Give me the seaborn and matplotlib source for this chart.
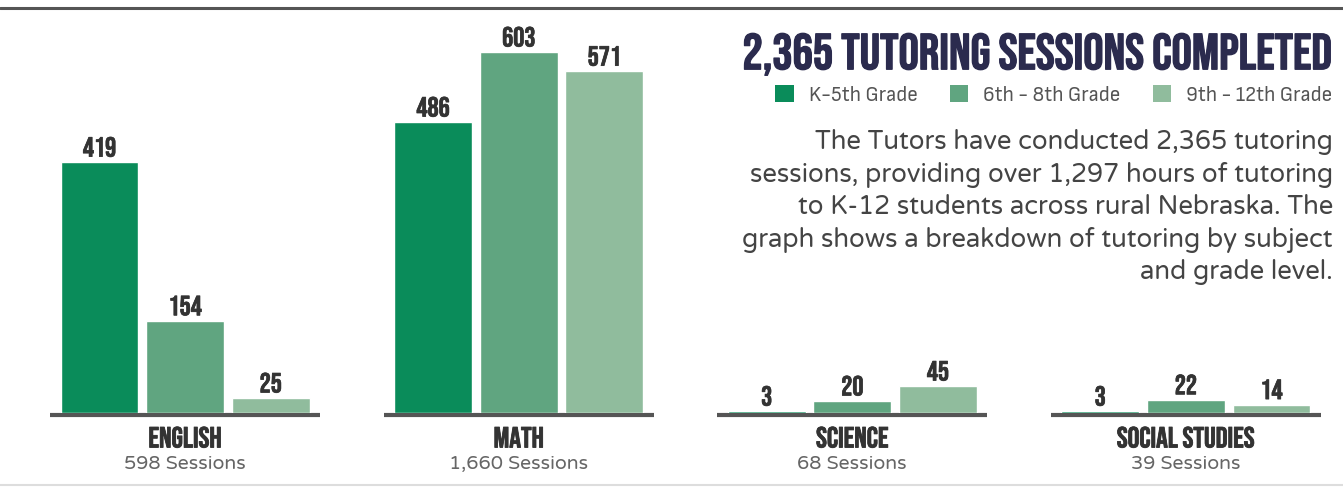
#!/usr/bin/env python3
# coding: utf-8
import pandas as pd
import seaborn as sns
import matplotlib.pyplot as plt
import matplotlib.patheffects as pe
import matplotlib.transforms as mtrans
from matplotlib.patches import Patch
from matplotlib.lines import Line2D

# ------------------------------------------------
# Data
# ------------------------------------------------
subjects = ["ENGLISH", "MATH", "SCIENCE", "SOCIAL STUDIES"]
session_labels = ["598 Sessions", "1,660 Sessions", "68 Sessions", "39 Sessions"]
grades = ["K-5th Grade", "6th - 8th Grade", "9th - 12th Grade"]
k5 = [419, 486, 3, 3]
g6_8 = [154, 603, 20, 22]
g9_12 = [25, 571, 45, 14]
colors = ["#0a8c5a", "#60a580", "#90bc9d"]

title = "2,365 TUTORING SESSIONS COMPLETED"
blurb = ("The Tutors have conducted 2,365 tutoring\n"
         "sessions, providing over 1,297 hours of tutoring\n"
         "to K-12 students across rural Nebraska. The\n"
         "graph shows a breakdown of tutoring by subject\n"
         "and grade level.")

rows = []
for grade, vals in zip(grades, [k5, g6_8, g9_12]):
    for s, v in zip(subjects, vals):
        rows.append({"Subject": s, "Grade": grade, "Sessions": v})
data = pd.DataFrame(rows)

# ------------------------------------------------
# Plot
# ------------------------------------------------
sns.set_theme(style="white")
head = ["Bebas Neue", "DejaVu Sans"]
cond = ["Sofia Sans Semi Condensed", "DejaVu Sans"]
body = ["Varela Round", "DejaVu Sans"]


def bold(color, w=1.0):
    return [pe.withStroke(linewidth=w, foreground=color)]


fig = plt.figure(figsize=(13.43, 4.87), dpi=100)
ax = fig.add_axes([0, 74 / 487, 1, 413 / 487])

sns.barplot(data=data, x="Subject", y="Sessions", hue="Grade",
            hue_order=grades, order=subjects, palette=colors,
            width=0.77, gap=0.09, saturation=1, ax=ax, legend=False)

ax.set_xlim(-0.555, 3.471)
ax.set_ylim(0, 690)
ax.axis("off")

for cont in ax.containers:
    ax.bar_label(cont, padding=4, fontsize=20, fontfamily=head,
                 color="#333333", path_effects=bold("#333333", 0.5))

# baseline (just under the bars) and the category captions
down = ax.transData + mtrans.ScaledTranslation(0, -2 / 100, fig.dpi_scale_trans)
for i, (s, lab) in enumerate(zip(subjects, session_labels)):
    ax.plot([i - 0.405, i + 0.405], [0, 0], color="#555555", lw=3,
            solid_capstyle="butt", clip_on=False, transform=down, zorder=0)
    ax.text(i, -40, s, ha="center", va="center", fontsize=21,
            fontfamily=head, color="#333333", path_effects=bold("#333333", 0.6))
    ax.text(i, -86, lab, ha="center", va="center", fontsize=14,
            fontfamily=body, color="#666666")

# top and bottom rules
fig.add_artist(Line2D([0, 1], [1 - 8 / 487] * 2, color="#555555", lw=2.2))
fig.add_artist(Line2D([0, 1], [2 / 487] * 2, color="#dddddd", lw=1.5))

# title, legend and description
fig.text(1333 / 1343, 1 - 54 / 487, title, ha="right", va="center",
         fontsize=36.5, fontfamily=head, color="#2b2b4e",
         path_effects=bold("#2b2b4e", 0.9))

handles = [Patch(facecolor=c, edgecolor="none", label=g)
           for c, g in zip(colors, grades)]
fig.legend(handles=handles, ncol=3, frameon=False, loc="center right",
           bbox_to_anchor=(1352 / 1343, 1 - 95 / 487),
           prop={"family": cond, "size": 15.5}, labelcolor="#555555",
           handlelength=0.85, handleheight=0.85, handletextpad=0.7,
           columnspacing=1.5)

fig.text(1333 / 1343, 1 - 129 / 487, blurb, ha="right", va="top",
         fontsize=18.5, fontfamily=body, color="#444444",
         linespacing=1.33)

plt.savefig("out.png", dpi=100)
plt.close(fig)
